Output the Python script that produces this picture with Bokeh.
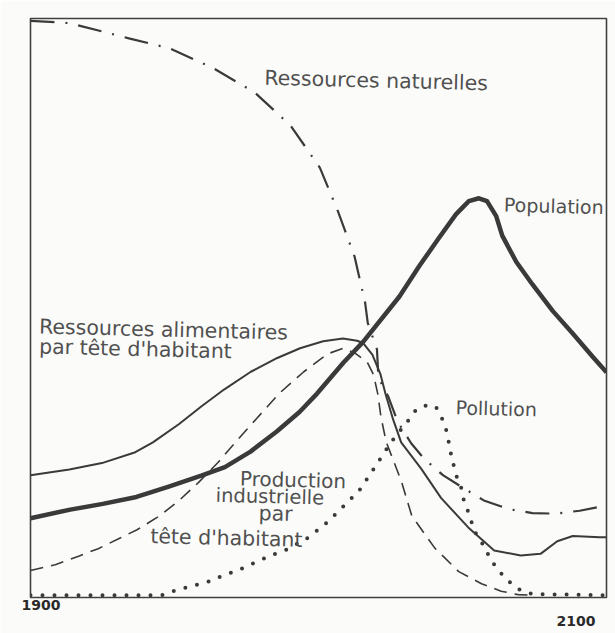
from bokeh.plotting import figure
from bokeh.models import Range1d, Title
from bokeh.core.properties import value
from bokeh.embed import file_html
from bokeh.resources import INLINE

# ---- data (years, relative level 0-100) ----
res_years = [1900, 1913.5, 1934.5, 1948.4, 1963.3, 1977.9, 1990.4, 2000.5, 2006.7, 2012.5, 2016.2,
             2017.1, 2020.3, 2020.8, 2024.3, 2027.5, 2032.1, 2036.6, 2043.2, 2050.5, 2057.4, 2066.0,
             2074.3, 2082.2, 2090.7, 2097.6, 2100]
res_values = [100, 99.6, 96.9, 95.2, 91.8, 87.5, 81.7, 74.4, 66.9, 59.0, 50.9,
              47.4, 42.8, 37.9, 34.5, 30.2, 26.5, 23.8, 20.9, 18.6, 16.5, 15.0,
              14.3, 14.2, 14.7, 15.4, 15.5]

pop_years = [1900, 1913.8, 1925.1, 1936.8, 1948.0, 1959.3, 1967.5, 1976.4, 1985.5, 1993.4, 1999.5,
             2008.7, 2015.5, 2028.1, 2035.0, 2041.8, 2047.7, 2052.2, 2055.7, 2058.5, 2061.7, 2063.8,
             2068.7, 2074.3, 2081.3, 2088.2, 2095.2, 2100]
pop_values = [13.4, 14.9, 15.9, 17.1, 18.9, 20.8, 22.3, 25.0, 28.5, 31.9, 35.1,
              40.5, 44.1, 52.0, 57.3, 62.2, 66.3, 68.6, 69.1, 68.6, 66.0, 62.6,
              58.0, 54.1, 49.5, 45.6, 41.5, 38.8]

food_years = [1900, 1913.5, 1924.8, 1936.4, 1942.5, 1951.6, 1959.4, 1967.2, 1976.5, 1985.7, 1993.6,
              2001.6, 2008.5, 2013.4, 2015.5, 2018.7, 2021.5, 2023.3, 2025.9, 2028.7, 2035.7, 2042.6,
              2052.0, 2061.0, 2070.2, 2077.1, 2082.9, 2088.3, 2097.6, 2100]
food_values = [20.9, 21.9, 23.0, 24.9, 26.6, 29.8, 32.9, 35.8, 38.9, 41.3, 43.0,
               44.2, 44.7, 44.3, 43.9, 41.9, 38.5, 35.0, 30.6, 26.6, 22.0, 16.9,
               11.8, 7.8, 6.9, 7.2, 9.4, 10.3, 10.1, 10.1]

ind_years = [1900, 1908.6, 1916.7, 1923.5, 1931.3, 1937.0, 1944.8, 1951.6, 1958.3, 1965.1, 1971.8,
             1978.6, 1986.3, 1994.9, 2003.1, 2008.6, 2012.8, 2017.0, 2019.1, 2020.6, 2021.7, 2023.5,
             2028.8, 2032.4, 2040.4, 2048.7, 2056.6, 2063.4, 2069.3, 2074]
ind_values = [4.3, 5.3, 6.8, 8.1, 10.0, 11.4, 13.8, 16.5, 19.6, 23.1, 27.0,
              30.8, 35.1, 38.9, 42.0, 43.0, 42.1, 40.5, 38.4, 35.0, 31.0, 26.7,
              19.8, 13.8, 8.2, 4.1, 2.0, 0.7, 0.1, 0]

pol_years = [1900, 1920, 1945.5, 1949.5, 1956.7, 1961.5, 1965.9, 1972.7, 1977.1, 1983.9, 1988.7,
             1995.5, 1998.9, 2003.3, 2014.1, 2020.5, 2022.9, 2025.9, 2031.0, 2033.1, 2036.5, 2040.6,
             2042.4, 2044.2, 2045.2, 2045.9, 2047.7, 2049.5, 2050.5, 2052.3, 2054.1, 2057.5, 2060.0,
             2063.4, 2066.8, 2070.3, 2074.4, 2100]
pol_values = [0, 0, 0, 0.7, 1.7, 2.3, 3.2, 4.5, 5.5, 7.0, 7.9,
              9.7, 11.0, 12.8, 18.2, 23.0, 24.9, 27.1, 30.3, 31.9, 33.0, 32.9,
              31.4, 29.1, 26.7, 24.8, 21.0, 18.8, 16.4, 14.1, 11.2, 8.5, 6.0,
              3.8, 2.1, 0.8, 0.2, 0]

label_texts = ["Ressources naturelles", "Population", "Ressources alimentaires", "par tête d'habitant",
               "Pollution", "Production", "industrielle", "par", "tête d'habitant"]
label_years = [1981.2, 2064.4, 1903.0, 1903.0, 2047.6, 1972.7, 1964.3, 1979.2, 1941.6]
label_values = [90.1, 68.0, 46.8, 43.3, 32.7, 20.3, 17.4, 14.3, 10.3]

tick_labels = ["1900", "2100"]

# ---- styles ----
ink = "#3a3a3a"
paper = "#fbfbf9"
label_sizes = ["20.5px", "19px", "20.5px", "20.5px", "19px", "20px", "19.5px", "20.5px", "20.5px"]

p = figure(width=615, height=633, output_backend="svg", toolbar_location=None,
           x_range=Range1d(1900, 2100), y_range=Range1d(-0.4, 100.4),
           x_axis_location=None, y_axis_location=None,
           min_border_left=30, min_border_right=9, min_border_top=18, min_border_bottom=36,
           background_fill_color=paper, border_fill_color=paper,
           outline_line_color="#404040", outline_line_width=1.6)
p.xgrid.visible = False
p.ygrid.visible = False

p.line(res_years, res_values, line_color=ink, line_width=2.2, line_dash="24 11 2 11")
p.line(food_years, food_values, line_color=ink, line_width=2, line_join="round")
p.line(ind_years, ind_values, line_color=ink, line_width=1.6, line_dash="13 8")
p.line(pol_years, pol_values, line_color=ink, line_width=4, line_dash="0 12", line_cap="round")
p.line(pop_years, pop_values, line_color=ink, line_width=4.5, line_join="round")

p.text(x=label_years, y=label_values, text=label_texts, angle=-0.025,
       text_font=value("DejaVu Sans"), text_font_size=label_sizes, text_color="#505050",
       text_align="left", text_baseline="alphabetic")

# range end labels under the frame (1900 at left, 2100 at right, one row lower)
tick_align = ["left", "right"]
tick_offset = [-9, 11]
tick_standoff = [0, 8]
for lab, al, off, so in zip(tick_labels, tick_align, tick_offset, tick_standoff):
    p.add_layout(Title(text=lab, align=al, offset=off, standoff=so,
                       text_font="DejaVu Sans", text_font_style="bold",
                       text_font_size="14px", text_color="#2a2a2a"), "below")

open("out.html", "w").write(file_html(p, INLINE))
